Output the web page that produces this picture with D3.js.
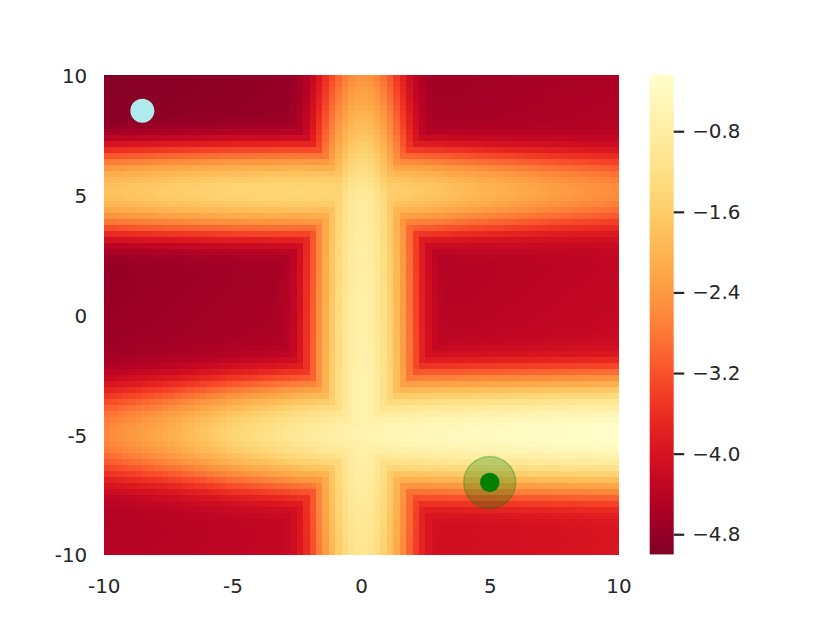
<!DOCTYPE html>
<html><head><meta charset="utf-8">
<script src="https://cdn.jsdelivr.net/npm/d3@7"></script>
<style>body{margin:0;background:#fff} svg{display:block} text{font-family:"DejaVu Sans",sans-serif}</style>
</head><body><svg id="c" width="830" height="623"></svg>
<script>
// ---------- data ----------
const gridCells = 80;                 // 80 x 80 cells over [-10,10]^2
const xTicks = [-10, -5, 0, 5, 10];
const yTicks = [-10, -5, 0, 5, 10];
const cbTicks = [-0.8, -1.6, -2.4, -3.2, -4.0, -4.8];
const valueDomain = [-5.0, -0.24];

// ridge peak values sampled along the ridge
const ridgeSampleX = [-10, -7.5, -5, -2.5, 0, 2.5, 5, 7.5, 10];
const upperRidgePeak = [-1.85, -1.65, -1.5, -1.45, -1.5, -1.75, -2.1, -2.45, -2.75];  // ridge near y = 5
const lowerRidgePeak = [-2.8, -2.2, -1.5, -1.0, -0.65, -0.5, -0.42, -0.33, -0.27];   // ridge near y = -5
const ridgeSampleY = [-10, -7.5, -5, -2.5, 0, 2.5, 5, 7.5, 10];
const vertRidgePeak = [-1.1, -0.9, -0.7, -0.7, -0.75, -0.8, -0.9, -1.8, -2.6];       // ridge near x = 0
const ridgeCentre = [5.15, -4.95, 0.05];   // upper, lower, vertical
const ridgeFalloff = [0.7, 0.45, 0.7];     // log drop per unit^2
// background level at the left / right edges, sampled in y
const bgSampleY = [-10, 0, 10];
const bgLeft = [-4.45, -4.75, -4.95];
const bgRight = [-3.95, -4.25, -4.55];
// markers
const startPoint = [-8.5, 8.5];
const goalPoint = [5, -7];

// ---------- layout ----------
const svg = d3.select("#c");
const P = {l: 103.75, r: 618.4, t: 74.8, b: 554.4};
const CB = {l: 649.7, r: 673.7};
const x = d3.scaleLinear().domain([-10, 10]).range([P.l, P.r]);
const y = d3.scaleLinear().domain([-10, 10]).range([P.b, P.t]);
const color = d3.scaleSequential(t => d3.interpolateYlOrRd(1 - t)).domain(valueDomain);

const upperPk = d3.scaleLinear().domain(ridgeSampleX).range(upperRidgePeak);
const lowerPk = d3.scaleLinear().domain(ridgeSampleX).range(lowerRidgePeak);
const vertPk = d3.scaleLinear().domain(ridgeSampleY).range(vertRidgePeak);
const bgL = d3.scaleLinear().domain(bgSampleY).range(bgLeft);
const bgR = d3.scaleLinear().domain(bgSampleY).range(bgRight);

const step = 20 / gridCells;
const centres = d3.range(gridCells).map(i => -10 + (i + 0.5) * step);
const cells = [];
for (const cy of centres) for (const cx of centres) {
  const f = (cx + 10) / 20;
  const bg = bgL(cy) * (1 - f) + bgR(cy) * f;
  const a = upperPk(cx) - ridgeFalloff[0] * (cy - ridgeCentre[0]) ** 2;
  const b = lowerPk(cx) - ridgeFalloff[1] * (cy - ridgeCentre[1]) ** 2;
  const c = vertPk(cy) - ridgeFalloff[2] * (cx - ridgeCentre[2]) ** 2;
  const m = Math.max(a, b, c);
  const v = Math.log(Math.exp(bg) + Math.exp(m));
  cells.push({cx, cy, v});
}

svg.append("g").attr("shape-rendering", "crispEdges")
  .selectAll("rect").data(cells).join("rect")
  .attr("x", d => x(d.cx - step / 2))
  .attr("y", d => y(d.cy + step / 2))
  .attr("width", d => x(d.cx + step / 2) - x(d.cx - step / 2) + 0.4)
  .attr("height", d => y(d.cy - step / 2) - y(d.cy + step / 2) + 0.4)
  .attr("fill", d => color(d.v));

// markers
svg.append("circle").attr("cx", x(startPoint[0])).attr("cy", y(startPoint[1])).attr("r", 12)
  .attr("fill", "#b0ecee");
svg.append("circle").attr("cx", x(goalPoint[0])).attr("cy", y(goalPoint[1])).attr("r", 26)
  .attr("fill", "green").attr("fill-opacity", 0.28)
  .attr("stroke", "green").attr("stroke-opacity", 0.3).attr("stroke-width", 1.5);
svg.append("circle").attr("cx", x(goalPoint[0])).attr("cy", y(goalPoint[1])).attr("r", 9.7)
  .attr("fill", "green");

// axes
const fs = 19.9, tc = "#262626";
const gx = svg.append("g").attr("transform", `translate(0,${P.b})`)
  .call(d3.axisBottom(x).tickValues(xTicks).tickFormat(d => String(d)).tickSize(0).tickPadding(24));
gx.select(".domain").remove();
gx.selectAll("text").attr("font-size", fs).attr("fill", tc).attr("font-family", "DejaVu Sans");

const gy = svg.append("g").attr("transform", `translate(${P.l},0)`)
  .call(d3.axisLeft(y).tickValues(yTicks).tickFormat(d => String(d)).tickSize(0).tickPadding(16.5));
gy.select(".domain").remove();
gy.selectAll("text").attr("font-size", fs).attr("fill", tc).attr("dy", "0.38em").attr("font-family", "DejaVu Sans");

// colorbar
const cbY = d3.scaleLinear().domain(valueDomain).range([P.b, P.t]);
const defs = svg.append("defs");
const grad = defs.append("linearGradient").attr("id", "cbg").attr("x1", 0).attr("y1", 1).attr("x2", 0).attr("y2", 0);
d3.range(0, 1.0001, 0.02).forEach(t => {
  grad.append("stop").attr("offset", t).attr("stop-color", color(valueDomain[0] + t * (valueDomain[1] - valueDomain[0])));
});
svg.append("rect").attr("x", CB.l).attr("y", P.t).attr("width", CB.r - CB.l).attr("height", P.b - P.t)
  .attr("fill", "url(#cbg)");
const gc = svg.append("g").attr("transform", `translate(${CB.r},0)`)
  .call(d3.axisRight(cbY).tickValues(cbTicks).tickFormat(d3.format(".1f")).tickSize(10.5).tickPadding(8));
gc.select(".domain").remove();
gc.selectAll("line").attr("stroke", tc).attr("stroke-width", 2.2);
gc.selectAll("text").attr("font-size", fs).attr("fill", tc).attr("font-family", "DejaVu Sans");
</script></body></html>
